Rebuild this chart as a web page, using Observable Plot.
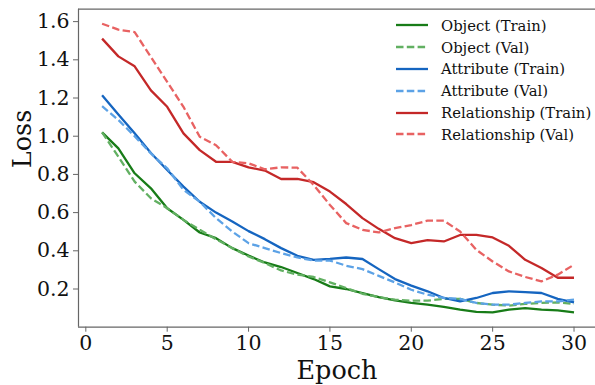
<!DOCTYPE html>
<html>
<head>
<meta charset="utf-8">
<script src="https://cdn.jsdelivr.net/npm/d3@7"></script>
<script src="https://cdn.jsdelivr.net/npm/@observablehq/plot@0.6"></script>
<style>
  html, body { margin: 0; padding: 0; background: #fff; }
  #wrap { position: relative; width: 595px; height: 385px; overflow: hidden; }
  #legend { position: absolute; left: 396px; top: 14.5px; font-family: "DejaVu Serif", serif; font-size: 14.8px; color: #111; }
  .row { display: flex; align-items: center; height: 21.8px; }
  .row svg { width: 32px; height: 10px; margin-right: 13px; }
</style>
</head>
<body>
<div id="wrap"></div>
<script>
const epochs = [1,2,3,4,5,6,7,8,9,10,11,12,13,14,15,16,17,18,19,20,21,22,23,24,25,26,27,28,29,30];
const objTrain = [1.02,0.936,0.806,0.727,0.623,0.562,0.496,0.466,0.414,0.375,0.339,0.315,0.284,0.252,0.214,0.2,0.179,0.158,0.14,0.127,0.118,0.106,0.092,0.08,0.078,0.092,0.1,0.092,0.088,0.078];
const objVal = [1.02,0.893,0.762,0.675,0.623,0.562,0.51,0.461,0.414,0.37,0.336,0.297,0.275,0.263,0.235,0.205,0.175,0.158,0.144,0.139,0.139,0.148,0.148,0.127,0.118,0.113,0.122,0.127,0.13,0.122];
const attrTrain = [1.215,1.114,1.015,0.912,0.823,0.736,0.657,0.6,0.553,0.503,0.461,0.414,0.374,0.353,0.358,0.365,0.357,0.304,0.252,0.218,0.188,0.153,0.135,0.153,0.179,0.188,0.184,0.179,0.148,0.13];
const attrVal = [1.157,1.085,1.0,0.91,0.832,0.719,0.657,0.571,0.501,0.44,0.414,0.388,0.365,0.349,0.349,0.322,0.304,0.269,0.234,0.196,0.17,0.153,0.148,0.127,0.118,0.118,0.127,0.135,0.135,0.144];
const relTrain = [1.511,1.418,1.366,1.24,1.154,1.015,0.927,0.866,0.866,0.837,0.82,0.776,0.776,0.759,0.71,0.645,0.571,0.515,0.466,0.44,0.456,0.449,0.483,0.483,0.47,0.426,0.353,0.31,0.259,0.259];
const relVal = [1.589,1.558,1.545,1.415,1.284,1.154,0.997,0.953,0.866,0.858,0.827,0.837,0.835,0.745,0.64,0.545,0.51,0.496,0.519,0.535,0.558,0.558,0.501,0.405,0.344,0.292,0.263,0.24,0.275,0.327];

const xTicks = [0,5,10,15,20,25,30];
const yTicks = [0.2,0.4,0.6,0.8,1.0,1.2,1.4,1.6];
const xDomain = [-0.45, 31.32];
const yDomain = [0.0, 1.665];

const series = [
  {name: "Object (Train)", values: objTrain, color: "#187c18", dash: null},
  {name: "Object (Val)", values: objVal, color: "#62b062", dash: "7.5,3.3"},
  {name: "Attribute (Train)", values: attrTrain, color: "#1565c0", dash: null},
  {name: "Attribute (Val)", values: attrVal, color: "#5ca2e6", dash: "7.5,3.3"},
  {name: "Relationship (Train)", values: relTrain, color: "#c42828", dash: null},
  {name: "Relationship (Val)", values: relVal, color: "#e86262", dash: "7.5,3.3"}
];

const spine = "#666";
const lineMarks = series.map(s => Plot.line(
  epochs.map((e, i) => ({epoch: e, loss: s.values[i]})),
  {x: "epoch", y: "loss", stroke: s.color, strokeWidth: 2.3, strokeDasharray: s.dash, strokeLinejoin: "round", strokeLinecap: "butt"}
));

const chart = Plot.plot({
  width: 595,
  height: 385,
  marginLeft: 78,
  marginRight: 0,
  marginTop: 8.7,
  marginBottom: 58.3,
  style: {fontFamily: "DejaVu Serif", fontSize: "20.5px", color: "#111", background: "white"},
  x: {domain: xDomain, label: null},
  y: {domain: yDomain, label: null},
  marks: [
    Plot.axisX({ticks: xTicks, tickSize: 5, tickPadding: 3, fontSize: 20.5, stroke: spine, fill: "#111", label: null}),
    Plot.axisY({ticks: yTicks, tickSize: 5, tickPadding: 4, fontSize: 20.5, stroke: spine, fill: "#111", tickFormat: d3.format(".1f"), label: null}),
    ...lineMarks,
    Plot.ruleY([yDomain[0]], {stroke: spine, strokeWidth: 1.2}),
    Plot.ruleY([yDomain[1]], {stroke: spine, strokeWidth: 1.2}),
    Plot.ruleX([xDomain[0]], {stroke: spine, strokeWidth: 1.2}),
    Plot.text(["Epoch"], {frameAnchor: "bottom", lineAnchor: "bottom", dy: 52, fontSize: 25.5, fill: "#111"}),
    Plot.text(["Loss"], {frameAnchor: "left", lineAnchor: "bottom", rotate: -90, dx: -48, fontSize: 25.5, fill: "#111"})
  ]
});

const wrap = document.getElementById("wrap");
wrap.appendChild(chart);

const legend = document.createElement("div");
legend.id = "legend";
for (const s of series) {
  const row = document.createElement("div");
  row.className = "row";
  row.innerHTML = `<svg viewBox="0 0 32 10"><line x1="0" y1="5" x2="32" y2="5" stroke="${s.color}" stroke-width="2.3" ${s.dash ? `stroke-dasharray="${s.dash}"` : ""}/></svg><span>${s.name}</span>`;
  legend.appendChild(row);
}
wrap.appendChild(legend);
</script>
</body>
</html>
